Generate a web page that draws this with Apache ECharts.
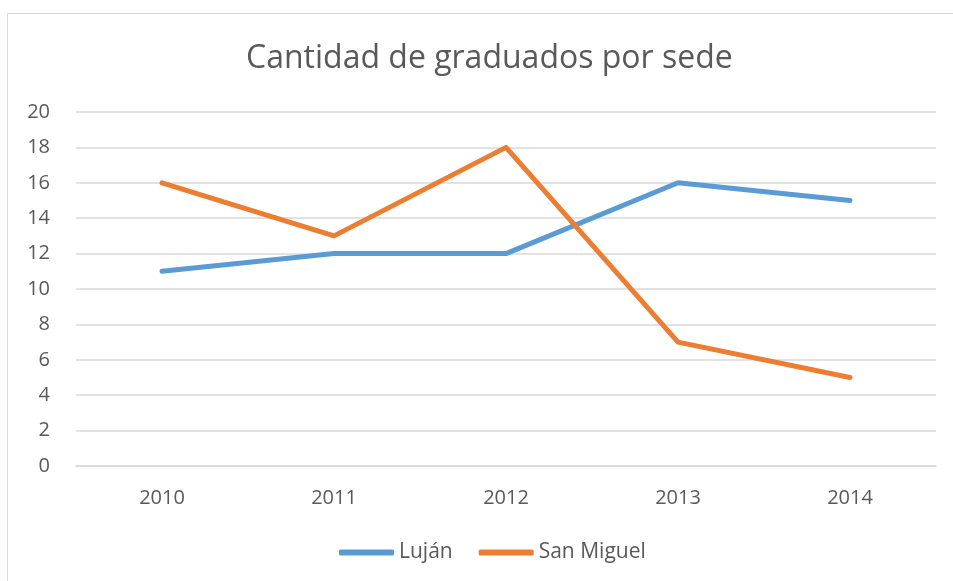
<!DOCTYPE html>
<html>
<head>
<meta charset="utf-8">
<script src="https://cdn.jsdelivr.net/npm/echarts@6/dist/echarts.min.js"></script>
<style>
  html, body { margin: 0; padding: 0; background: #fff; }
  #frame {
    position: absolute; left: 7px; top: 13px; width: 960px; height: 600px;
    border-left: 1px solid #d9d9d9; border-top: 1px solid #d9d9d9;
  }
  #chart { position: absolute; left: 0; top: 0; width: 953px; height: 581px; }
</style>
</head>
<body>
<div id="frame"></div>
<div id="chart"></div>
<script>
const years = ['2010', '2011', '2012', '2013', '2014']
const lujan = [11, 12, 12, 16, 15]
const sanMiguel = [16, 13, 18, 7, 5]

const chart = echarts.init(document.getElementById('chart'))
const font = '"Open Sans", "Noto Sans", sans-serif'

chart.setOption({
  animation: false,
  title: {
    text: 'Cantidad de graduados por sede',
    left: 241,
    top: 38,
    textStyle: { fontFamily: font, fontSize: 32, fontWeight: 'normal', color: '#595959' }
  },
  legend: {
    bottom: 13,
    left: 334,
    itemWidth: 55,
    itemHeight: 6,
    itemGap: 26,
    textStyle: { fontFamily: font, fontSize: 21, color: '#595959' },
    data: [
      { name: 'Luján', icon: 'roundRect' },
      { name: 'San Miguel', icon: 'roundRect' }
    ]
  },
  grid: { left: 76, right: 17, top: 112, bottom: 115 },
  xAxis: {
    type: 'category',
    data: years,
    axisLine: { lineStyle: { color: '#d9d9d9', width: 1.5 } },
    axisTick: { show: false },
    axisLabel: { fontFamily: font, fontSize: 20, color: '#595959', margin: 22 }
  },
  yAxis: {
    type: 'value',
    min: 0,
    max: 20,
    interval: 2,
    axisLine: { show: false },
    axisTick: { show: false },
    splitLine: { lineStyle: { color: '#d9d9d9', width: 1.5 } },
    axisLabel: { fontFamily: font, fontSize: 20, color: '#595959', margin: 26 }
  },
  series: [
    {
      name: 'Luján',
      type: 'line',
      data: lujan,
      symbol: 'none',
      color: '#5b9bd5',
      lineStyle: { width: 5, cap: 'round', join: 'round' }
    },
    {
      name: 'San Miguel',
      type: 'line',
      data: sanMiguel,
      symbol: 'none',
      color: '#ed7d31',
      lineStyle: { width: 5, cap: 'round', join: 'round' }
    }
  ]
})
</script>
</body>
</html>
